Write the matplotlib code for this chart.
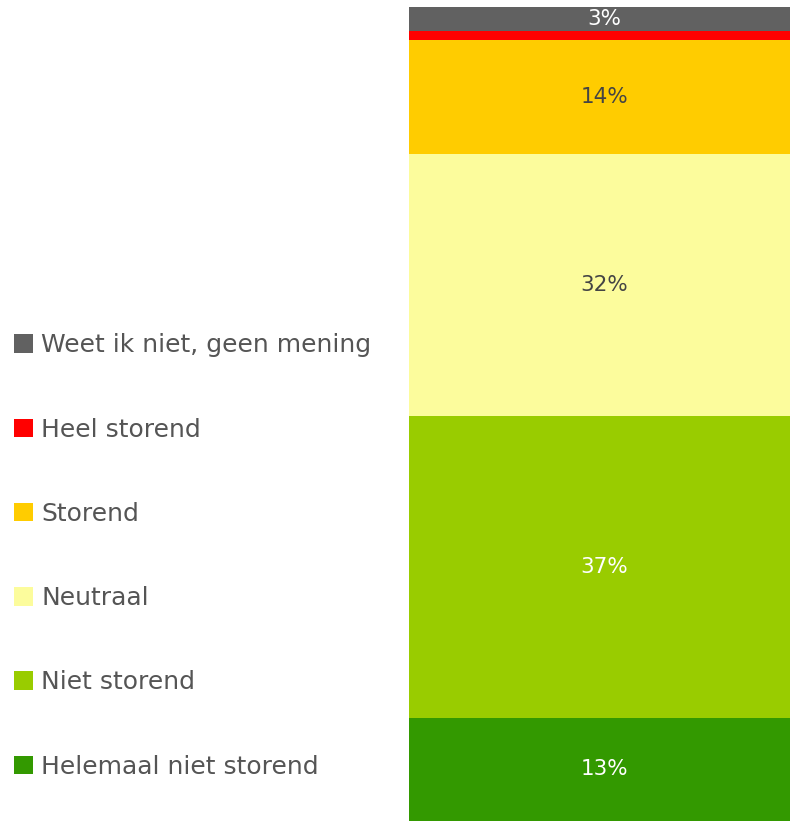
import matplotlib
matplotlib.use("Agg")
import matplotlib.pyplot as plt
from matplotlib.patches import Patch

categories = ["Helemaal niet storend", "Niet storend", "Neutraal", "Storend",
              "Heel storend", "Weet ik niet, geen mening"]
values = [12.7, 37.1, 32.1, 14.1, 1.0, 3.0]
show_label = [True, True, True, True, False, True]
colors = ["#339900", "#99cc00", "#fcfc9c", "#ffcc00", "#ff0000", "#616161"]
text_colors = ["white", "white", "#444444", "#444444", "white", "white"]

fig = plt.figure(figsize=(7.9, 8.21), dpi=100)
ax = fig.add_axes([409/790, 0, 381/790, 814/821])

bottom = 0
for v, c, show, tc in zip(values, colors, show_label, text_colors):
    ax.bar(0, v, bottom=bottom, width=1, color=c, linewidth=0)
    if show:
        ax.annotate(f"{round(v)}%", (0, bottom + v/2), xytext=(3.5, 0),
                    textcoords="offset points", ha="center", va="center",
                    color=tc, fontsize=15.5)
    bottom += v

ax.set_xlim(-0.5, 0.5)
ax.set_ylim(0, sum(values))
ax.axis("off")

handles = [Patch(facecolor=c, edgecolor="none") for c in colors][::-1]
leg = fig.legend(handles, categories[::-1], loc="center left",
                 bbox_to_anchor=(14/790, (821-556)/821), frameon=False,
                 fontsize=18, labelcolor="#555555", handlelength=0.76,
                 handleheight=0.76, handletextpad=0.32, labelspacing=2.41,
                 borderpad=0, borderaxespad=0)

fig.savefig("out.png", dpi=100)
